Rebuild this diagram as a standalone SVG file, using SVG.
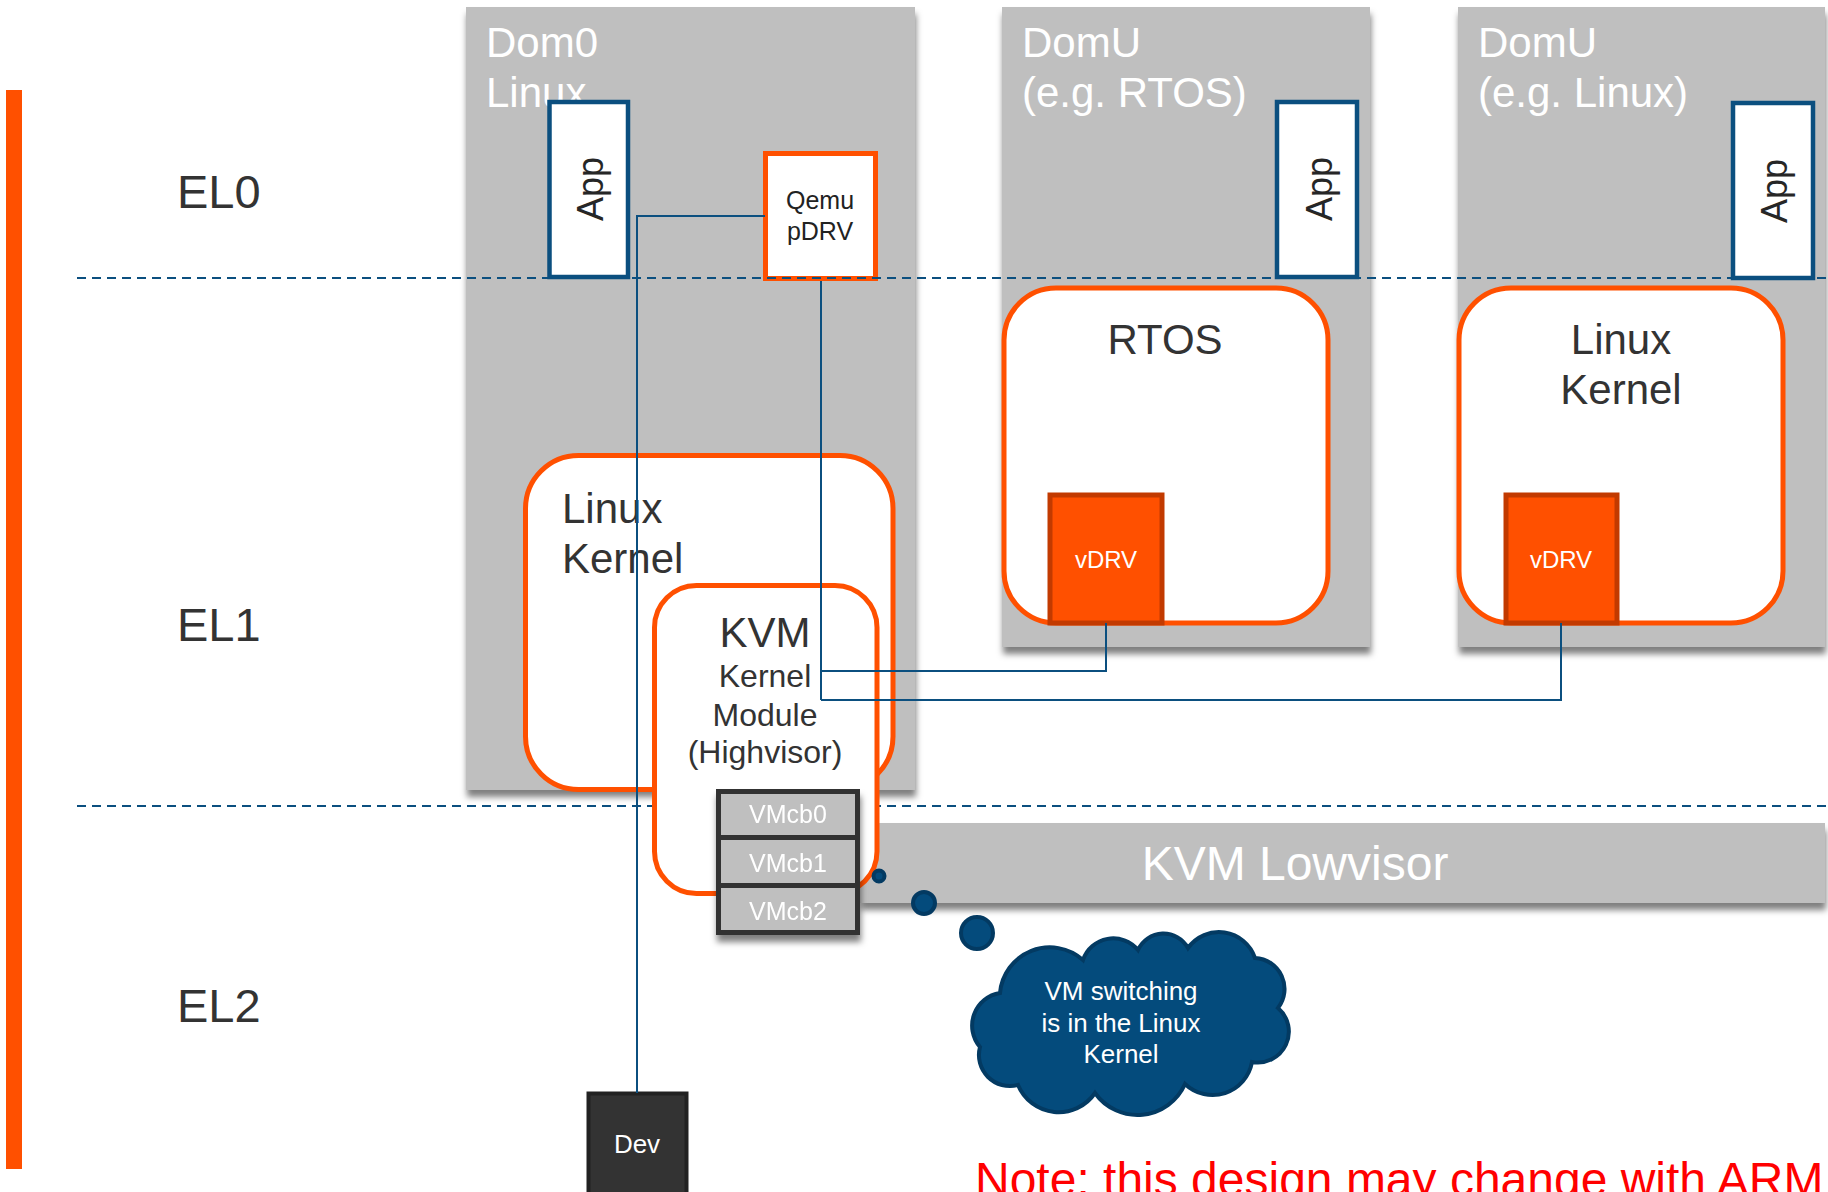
<svg xmlns="http://www.w3.org/2000/svg" width="1828" height="1192" viewBox="0 0 1828 1192">
<defs>
<filter id="sh" x="-10%" y="-10%" width="125%" height="130%">
<feDropShadow dx="1" dy="7" stdDeviation="3" flood-color="#000" flood-opacity="0.5"/>
</filter>
<style>
text{font-family:"Liberation Sans",Arial,sans-serif}
.panel{fill:#bfbfbf}
.plabel{fill:#ffffff;font-size:42px}
.app{fill:#ffffff;stroke:#0b4f7f;stroke-width:4.5}
.apptxt{fill:#262626;font-size:36px;text-anchor:middle}
.kern{fill:#ffffff;stroke:#ff5000;stroke-width:5}
.ktxt{fill:#333333;font-size:42px;text-anchor:middle}
.el{fill:#333333;font-size:47px}
.dash{stroke:#0b4f7f;stroke-width:2.2;stroke-dasharray:9 6;fill:none}
.vdrv{fill:#ff5000;stroke:#c23a00;stroke-width:5}
.vtxt{fill:#ffffff;font-size:24px;text-anchor:middle}
.vmcb{fill:#bfbfbf;stroke:#333333;stroke-width:5}
.vmtxt{fill:#ffffff;font-size:25px;text-anchor:middle}
.conn{stroke:#0b4f7f;stroke-width:2;fill:none}
.bub{fill:#044b7c;stroke:#033a62;stroke-width:4}
</style>
</defs>
<rect width="1828" height="1192" fill="#ffffff"/>

<rect id="orange-bar" x="6" y="90" width="16" height="1079" fill="#ff5000"/>

<g id="el-labels">
<text class="el" x="177" y="208">EL0</text>
<text class="el" x="177" y="641">EL1</text>
<text class="el" x="177" y="1022">EL2</text>
</g>

<g id="dom0">
<rect class="panel" x="466" y="7" width="449" height="783" filter="url(#sh)"/>
<text class="plabel" x="486" y="57">Dom0</text>
<text class="plabel" x="486" y="107">Linux</text>
</g>
<g id="domu-rtos">
<rect class="panel" x="1002" y="7" width="368" height="640" filter="url(#sh)"/>
<text class="plabel" x="1022" y="57">DomU</text>
<text class="plabel" x="1022" y="107">(e.g. RTOS)</text>
</g>
<g id="domu-linux">
<rect class="panel" x="1458" y="7" width="367" height="640" filter="url(#sh)"/>
<text class="plabel" x="1478" y="57">DomU</text>
<text class="plabel" x="1478" y="107">(e.g. Linux)</text>
</g>

<g id="lowvisor">
<rect class="panel" x="860" y="823" width="965" height="80" filter="url(#sh)"/>
<text x="1295" y="880" fill="#ffffff" font-size="48" text-anchor="middle">KVM Lowvisor</text>
</g>

<g id="app-dom0">
<rect class="app" x="549.5" y="102" width="78.5" height="175"/>
<text class="apptxt" transform="translate(603,189) rotate(-90)">App</text>
</g>
<g id="qemu">
<rect x="765.5" y="153.5" width="110" height="125" fill="#ffffff" stroke="#ff5000" stroke-width="5"/>
<text x="820" y="209" fill="#222222" font-size="25" text-anchor="middle">Qemu</text>
<text x="820" y="240" fill="#222222" font-size="25" text-anchor="middle">pDRV</text>
</g>
<g id="app-rtos">
<rect class="app" x="1277" y="102" width="80" height="175"/>
<text class="apptxt" transform="translate(1332,189) rotate(-90)">App</text>
</g>
<g id="app-linux">
<rect class="app" x="1733" y="103" width="80" height="175"/>
<text class="apptxt" transform="translate(1787,191) rotate(-90)">App</text>
</g>

<g id="level-lines">
<line class="dash" x1="77" y1="278" x2="1828" y2="278"/>
<line class="dash" x1="77" y1="806" x2="1828" y2="806"/>
</g>

<g id="rtos">
<rect class="kern" x="1004" y="288" width="324" height="335" rx="52"/>
<text class="ktxt" x="1165" y="354">RTOS</text>
</g>
<g id="vdrv-rtos">
<rect class="vdrv" x="1050" y="495" width="112" height="128"/>
<text class="vtxt" x="1106" y="568">vDRV</text>
</g>
<g id="linux-kernel-domu">
<rect class="kern" x="1459" y="288" width="324" height="335" rx="52"/>
<text class="ktxt" x="1621" y="354">Linux</text>
<text class="ktxt" x="1621" y="404">Kernel</text>
</g>
<g id="vdrv-linux">
<rect class="vdrv" x="1506" y="495" width="111" height="128"/>
<text class="vtxt" x="1561" y="568">vDRV</text>
</g>

<g id="linux-kernel-dom0">
<rect class="kern" x="525.5" y="455.5" width="367.5" height="334" rx="53"/>
<text fill="#333333" font-size="42" x="562" y="523">Linux</text>
<text fill="#333333" font-size="42" x="562" y="573">Kernel</text>
</g>
<g id="kvm">
<rect class="kern" x="654.5" y="585.5" width="222.5" height="308" rx="42"/>
<text x="765" y="647" fill="#333333" font-size="42" text-anchor="middle">KVM</text>
<text x="765" y="687" fill="#333333" font-size="32" text-anchor="middle">Kernel</text>
<text x="765" y="726" fill="#333333" font-size="32" text-anchor="middle">Module</text>
<text x="765" y="763" fill="#333333" font-size="32" text-anchor="middle">(Highvisor)</text>
</g>
<g id="vmcb" filter="url(#sh)">
<rect class="vmcb" x="718.5" y="791.5" width="139" height="46"/>
<rect class="vmcb" x="718.5" y="837.5" width="139" height="48"/>
<rect class="vmcb" x="718.5" y="885.5" width="139" height="47"/>
<text class="vmtxt" x="788" y="823">VMcb0</text>
<text class="vmtxt" x="788" y="872">VMcb1</text>
<text class="vmtxt" x="788" y="920">VMcb2</text>
</g>

<g id="dev">
<rect x="588.5" y="1093.5" width="98" height="110" fill="#333333" stroke="#222222" stroke-width="4"/>
<text x="637" y="1153" fill="#ffffff" font-size="26" text-anchor="middle">Dev</text>
</g>

<g id="connectors">
<polyline class="conn" points="765,216 637,216 637,1093"/>
<polyline class="conn" points="821,281 821,700"/>
<polyline class="conn" points="821,671 1106,671 1106,623"/>
<polyline class="conn" points="821,700 1561,700 1561,623"/>
</g>

<g id="thought-bubble">
<circle class="bub" cx="879" cy="876" r="5.5" stroke-width="3"/>
<circle class="bub" cx="924" cy="903" r="11"/>
<circle class="bub" cx="977" cy="933" r="16"/>
<path class="bub" d="M1000,993 A50,50 0 0 1 1083,960 A32,32 0 0 1 1138,950 A28,28 0 0 1 1188,948 A38,38 0 0 1 1255,958 A31,31 0 0 1 1278,1008 A31,31 0 0 1 1252,1062 A40,40 0 0 1 1185,1084 A52,52 0 0 1 1095,1093 A44,44 0 0 1 1018,1085 A31,31 0 0 1 980,1047 A33,33 0 0 1 1000,993 Z"/>
<text x="1121" y="1000" fill="#ffffff" font-size="26" text-anchor="middle">VM switching</text>
<text x="1121" y="1032" fill="#ffffff" font-size="26" text-anchor="middle">is in the Linux</text>
<text x="1121" y="1063" fill="#ffffff" font-size="26" text-anchor="middle">Kernel</text>
</g>

<text id="note" x="975" y="1196" fill="#ff0000" font-size="48">Note: this design may change with ARM</text>
</svg>
